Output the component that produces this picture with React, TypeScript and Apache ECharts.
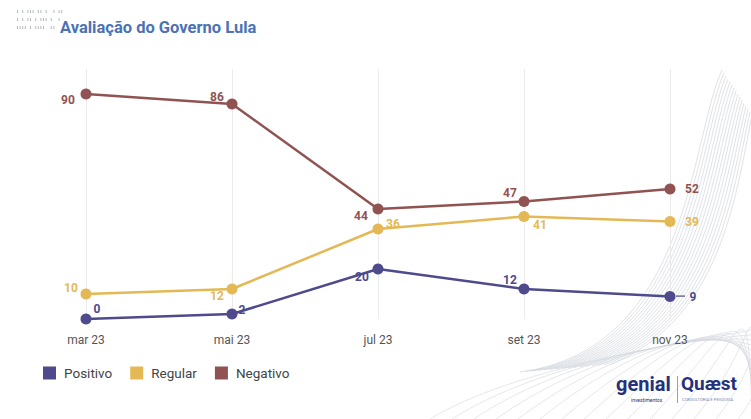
import React, { useEffect, useRef } from "react";
import * as echarts from "echarts";

const categories = ["mar 23", "mai 23", "jul 23", "set 23", "nov 23"];
const positivo = [0, 2, 20, 12, 9];
const regular = [10, 12, 36, 41, 39];
const negativo = [90, 86, 44, 47, 52];
const seriesNames = ["Positivo", "Regular", "Negativo"];

const COLORS = ["#4e4a8c", "#e4b955", "#915252"];
const LABEL_OFFSETS = [
  [[11, -10], [10, -4], [-16, 8], [-14, -9], [23, 0]],
  [[-15, -6], [-15, 7], [15, -5], [16, 8], [22, 0]],
  [[-18, 6], [-15, -7], [-17, 7], [-14, -9], [22, 0]],
];

const DASH_ROWS = ["| | ||| || |  | ||", "| | || | ||| |  |", "|||| | ||||  ||"];

function buildGraphics() {
  const g: any[] = [];
  for (let i = 0; i < 16; i++) {
    g.push({
      type: "bezierCurve",
      silent: true,
      z: -10,
      shape: {
        x1: 520 + i * 6,
        y1: 372 - i * 0.5,
        cpx1: 690 + i * 2,
        cpy1: 350 - i * 2,
        cpx2: 690 + i * 3,
        cpy2: 140 + i * 4,
        x2: 722 + i * 2,
        y2: 70 + i * 3,
      },
      style: { stroke: "#c9ced6", lineWidth: 0.6, fill: null },
    });
  }
  for (let i = 0; i < 16; i++) {
    g.push({
      type: "bezierCurve",
      silent: true,
      z: -10,
      shape: {
        x1: 430 + i * 22,
        y1: 419,
        cpx1: 520 + i * 20,
        cpy1: 365 - i * 2,
        cpx2: 680 + i * 6,
        cpy2: 345 - i * 6,
        x2: 751,
        y2: 330 + i * 5,
      },
      style: { stroke: "#d3d7de", lineWidth: 0.6, fill: null },
    });
  }
  DASH_ROWS.forEach((row, r) => {
    for (let c = 0; c < row.length; c++) {
      if (row[c] === "|") {
        g.push({
          type: "rect",
          silent: true,
          shape: { x: 17 + c * 2.6, y: 10 + r * 8, width: 1, height: 3 },
          style: { fill: "#b4b9c0" },
        });
      }
    }
  });
  g.push({
    type: "text",
    left: 60,
    top: 19,
    style: {
      text: "Avaliação do Governo Lula",
      fill: "#4a73b5",
      font: "bold 16.5px Roboto",
    },
  });
  g.push({
    type: "text",
    x: 616,
    y: 374,
    style: { text: "genial", fill: "#25317a", font: "bold 20px Roboto" },
  });
  g.push({
    type: "text",
    x: 631,
    y: 397,
    style: { text: "investimentos", fill: "#25317a", font: "5px Roboto" },
  });
  g.push({
    type: "rect",
    shape: { x: 677, y: 376, width: 1, height: 27 },
    style: { fill: "#7aa7d8" },
  });
  g.push({
    type: "text",
    x: 681,
    y: 374,
    style: { text: "Quæst", fill: "#25317a", font: "bold 19px Roboto" },
  });
  g.push({
    type: "text",
    x: 682,
    y: 397,
    style: { text: "CONSULTORIA E PESQUISA", fill: "#7a86b0", font: "4.2px Roboto" },
  });
  // short connector before the last Positivo label
  g.push({
    type: "rect",
    silent: true,
    shape: { x: 676, y: 295.5, width: 9, height: 1.2 },
    style: { fill: COLORS[0] },
  });
  return g;
}

export default function App() {
  const ref = useRef<HTMLDivElement>(null);
  useEffect(() => {
    if (!ref.current) return;
    const chart = echarts.init(ref.current, null, { renderer: "svg" });
    const allData = [positivo, regular, negativo];
    chart.setOption({
      animation: false,
      backgroundColor: "#ffffff",
      textStyle: { fontFamily: "Roboto" },
      color: COLORS,
      graphic: buildGraphics(),
      legend: {
        left: 43,
        top: 366,
        padding: 0,
        icon: "rect",
        itemWidth: 13,
        itemHeight: 13,
        itemGap: 18,
        textStyle: {
          color: "#444",
          fontSize: 13.5,
          fontFamily: "Roboto",
          padding: [0, 0, 0, 3],
        },
        data: seriesNames,
      },
      grid: { left: 86, right: 81, top: 69, bottom: 100 },
      xAxis: {
        type: "category",
        data: categories,
        boundaryGap: false,
        axisLine: { show: false },
        axisTick: { show: false },
        axisLabel: { color: "#555", fontSize: 12, margin: 15, fontFamily: "Roboto" },
        splitLine: { show: true, lineStyle: { color: "#ebebeb", width: 1 } },
      },
      yAxis: {
        type: "value",
        min: 0,
        max: 100,
        show: false,
        splitLine: { show: false },
      },
      series: seriesNames.map((name, si) => ({
        name,
        type: "line",
        data: allData[si].map((v, i) => ({
          value: v,
          label: { offset: LABEL_OFFSETS[si][i] },
        })),
        symbol: "circle",
        symbolSize: 11,
        lineStyle: { width: 2.5, color: COLORS[si] },
        itemStyle: { color: COLORS[si] },
        label: {
          show: true,
          position: "inside",
          align: "center",
          verticalAlign: "middle",
          color: COLORS[si],
          fontWeight: "bold",
          fontSize: 12,
          fontFamily: "Roboto",
        },
        z: 3 + si,
      })),
    });
    return () => chart.dispose();
  }, []);
  return (
    <div
      ref={ref}
      style={{ position: "absolute", left: 0, top: 0, width: 751, height: 419 }}
    />
  );
}
